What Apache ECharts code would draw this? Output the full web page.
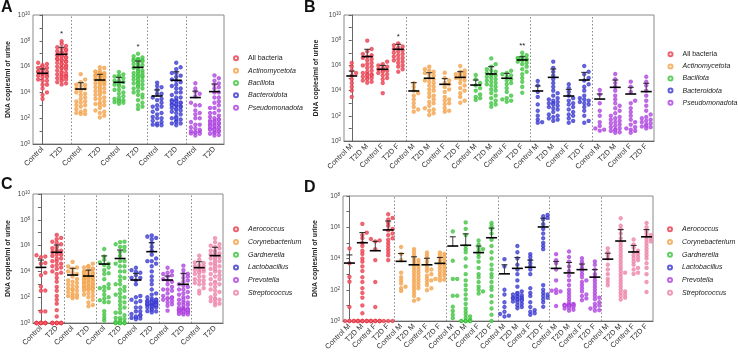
<!DOCTYPE html>
<html>
<head>
<meta charset="utf-8">
<script src="https://cdn.jsdelivr.net/npm/echarts@6/dist/echarts.min.js"></script>
<style>
  html, body { margin: 0; padding: 0; background: #fff; }
  #chart { width: 738px; height: 353px; }
</style>
</head>
<body>
<div id="chart"></div>
<script>
// all values are log10(DNA copies/ml of urine); 0 = not detected (drawn on the baseline)
// sub-groups in order: Control M, T2D M, Control F, T2D F

// ---- phyla (panels A / B)
var allBacteria = [
  [6.2, 5.9, 5.6, 5.4, 5.2, 4.9, 4.6, 4.3, 4.0, 3.5],
  [7.97, 7.3, 7.1, 6.9, 6.8, 6.7, 6.6, 6.5, 6.4, 6.2, 6.1, 6.0, 5.9, 5.8, 5.6, 5.5, 5.4, 5.3, 5.3, 5.2, 5.2, 5.1, 5.0, 5.0, 4.9, 4.8, 4.7, 4.62],
  [6.3, 6.1, 6.0, 5.9, 5.8, 5.7, 5.6, 5.6, 5.5, 5.4, 5.3, 5.2, 5.0, 4.9, 4.6, 3.8],
  [7.75, 7.6, 7.5, 7.4, 7.3, 7.2, 7.1, 7.0, 6.9, 6.8, 6.7, 6.6, 6.5, 6.4, 6.3, 6.2, 6.0, 5.9, 5.7, 5.5]
];
var actinomycetota = [
  [4.58, 4.3, 4.0, 3.8, 3.6, 3.3, 3.0, 2.7, 2.5, 2.33],
  [5.9, 5.7, 5.6, 5.5, 5.4, 5.3, 5.2, 5.0, 4.9, 4.8, 4.7, 4.6, 4.4, 4.3, 4.1, 4.0, 3.8, 3.6, 3.5, 3.3, 3.1, 3.0, 2.8, 2.6, 2.5, 2.4, 2.2, 2.06],
  [5.42, 5.0, 4.8, 4.6, 4.5, 4.3, 4.1, 3.9, 3.5, 3.3, 3.2, 3.0, 2.9, 2.6, 2.4, 2.33],
  [5.95, 5.6, 5.5, 5.4, 5.35, 5.3, 5.2, 5.15, 5.1, 5.0, 4.9, 4.8, 4.6, 4.4, 4.2, 4.0, 3.8, 3.5, 3.2, 3.04]
];
var bacillota = [
  [5.24, 4.9, 4.6, 4.4, 4.2, 4.0, 3.7, 3.5, 3.4, 3.25],
  [6.56, 6.1, 5.9, 5.7, 5.6, 5.5, 5.4, 5.3, 5.25, 5.2, 5.1, 5.0, 4.9, 4.8, 4.7, 4.6, 4.5, 4.4, 4.3, 4.1, 4.0, 3.8, 3.6, 3.4, 3.2, 3.0, 2.9, 2.72],
  [5.58, 5.4, 5.3, 5.2, 5.1, 4.9, 4.8, 4.6, 4.5, 4.2, 3.9, 3.6, 3.4, 3.3, 3.2, 3.12],
  [7.0, 6.8, 6.7, 6.6, 6.55, 6.5, 6.5, 6.45, 6.4, 6.3, 6.2, 6.1, 5.9, 5.7, 5.5, 5.3, 5.0, 4.7, 4.3, 3.83]
];
var bacteroidota = [
  [4.76, 4.4, 3.9, 3.5, 2.9, 2.4, 2.0, 1.7, 1.5, 1.45],
  [6.3, 5.8, 5.5, 5.2, 4.9, 4.6, 4.3, 4.0, 3.8, 3.6, 3.4, 3.3, 3.2, 3.1, 3.0, 3.0, 2.9, 2.8, 2.7, 2.6, 2.5, 2.3, 2.1, 2.0, 1.9, 1.8, 1.7, 1.6],
  [4.5, 4.2, 3.9, 3.6, 3.4, 3.2, 3.0, 2.9, 2.7, 2.5, 2.3, 2.1, 2.0, 1.8, 1.6, 1.45],
  [5.95, 5.5, 5.3, 5.0, 4.8, 4.5, 4.3, 4.0, 3.6, 3.4, 3.3, 3.2, 3.1, 3.0, 2.9, 2.7, 2.4, 2.0, 1.6, 1.45]
];
var pseudomonadota = [
  [4.05, 3.7, 3.0, 2.4, 2.0, 1.5, 1.2, 1.0, 0.9, 0.82],
  [5.32, 4.9, 4.6, 4.3, 4.0, 3.6, 3.3, 3.0, 2.8, 2.6, 2.4, 2.2, 2.0, 1.9, 1.8, 1.7, 1.6, 1.5, 1.4, 1.3, 1.2, 1.1, 1.0, 0.9, 0.85, 0.8, 0.7, 0.66],
  [4.71, 4.3, 3.9, 3.2, 3.0, 2.6, 2.3, 2.0, 1.7, 1.5, 1.3, 1.1, 1.0, 0.9, 0.8, 0.66],
  [5.1, 4.7, 4.4, 4.0, 3.6, 3.2, 2.8, 2.4, 2.1, 1.9, 1.8, 1.7, 1.6, 1.5, 1.4, 1.3, 1.2, 1.15, 1.1, 1.0]
];

// ---- genera (panels C / D)
var aerococcus = [
  [4.65, 3.7, 2.83, 2.52, 0.9, 0, 0, 0, 0, 0],
  [6.22, 5.66, 5.5, 5.3, 5.0, 4.8, 4.5, 4.3, 4.0, 3.8, 3.5, 3.2, 2.8, 2.5, 2.1, 1.8, 1.5, 1.0, 0.5, 0, 0, 0, 0, 0, 0, 0, 0, 0],
  [5.25, 5.15, 5.1, 4.6, 3.9, 2.5, 0.9, 0, 0, 0, 0, 0, 0, 0, 0, 0],
  [6.83, 6.6, 6.5, 6.3, 6.1, 5.9, 5.8, 5.6, 5.5, 5.3, 5.2, 5.0, 4.8, 4.6, 4.4, 4.2, 3.9, 0, 0, 0]
];
var corynebacterium = [
  [4.74, 4.3, 3.9, 3.1, 2.8, 2.6, 2.4, 2.2, 2.1, 1.93],
  [4.6, 4.4, 4.2, 4.0, 3.9, 3.8, 3.7, 3.6, 3.5, 3.4, 3.3, 3.2, 3.1, 3.0, 2.9, 2.8, 2.7, 2.6, 2.5, 2.4, 2.3, 2.2, 2.1, 2.0, 1.8, 1.6, 1.4, 1.3],
  [4.39, 4.2, 4.0, 3.8, 3.6, 3.4, 3.3, 3.2, 3.0, 2.9, 2.7, 2.6, 2.5, 2.3, 2.1, 1.97],
  [4.39, 4.3, 4.2, 4.1, 4.0, 3.9, 3.8, 3.7, 3.6, 3.5, 3.4, 3.3, 3.2, 3.1, 3.0, 2.9, 2.8, 2.7, 2.65, 2.6]
];
var gardnerella = [
  [5.74, 3.86, 2.7, 2.7, 1.62, 1.62, 0.92, 0.65, 0.4, 0.19],
  [6.31, 5.9, 5.5, 4.8, 4.6, 4.4, 4.0, 3.5, 3.0, 2.6, 2.3, 2.0, 1.7, 1.4, 1.1, 0.8, 0.6, 0.4, 0.3, 0.2, 0.1, 0, 0, 0, 0, 0, 0, 0],
  [5.15, 4.9, 4.7, 4.6, 4.5, 4.3, 4.1, 3.8, 3.4, 3.0, 2.8, 2.5, 2.2, 2.0, 1.9, 1.76],
  [6.27, 6.1, 5.9, 5.6, 5.2, 4.8, 4.4, 4.0, 3.6, 3.3, 3.0, 2.8, 2.5, 2.2, 2.0, 1.6, 1.2, 0.8, 0.4, 0]
];
var lactobacillus = [
  [3.96, 3.5, 2.0, 1.7, 1.2, 0.9, 0.6, 0.45, 0.35, 0.29],
  [4.8, 4.4, 4.0, 3.6, 3.3, 3.0, 2.6, 2.2, 1.9, 1.8, 1.75, 1.7, 1.65, 1.6, 1.55, 1.5, 1.5, 1.45, 1.4, 1.4, 1.35, 1.3, 1.25, 1.2, 1.1, 1.0, 0.9, 0.82],
  [4.28, 4.1, 3.9, 3.7, 3.5, 3.3, 3.0, 2.1, 1.8, 1.6, 1.2, 0.9, 0.7, 0.6, 0.5, 0.4],
  [6.79, 6.7, 6.6, 6.5, 6.2, 5.9, 5.6, 5.3, 5.0, 4.8, 4.6, 2.3, 2.0, 1.8, 1.7, 1.6, 1.5, 1.4, 1.2, 0.92]
];
var prevotella = [
  [4.28, 3.9, 3.7, 3.3, 2.6, 2.0, 1.95, 1.9, 1.8, 0.96],
  [4.45, 4.1, 3.8, 3.5, 3.2, 2.9, 2.6, 2.3, 2.0, 1.8, 1.6, 1.4, 1.2, 1.1, 1.05, 1.05, 1.03, 1.03, 1.0, 1.0, 1.0, 0.98, 0.95, 0.9, 0.85, 0.8, 0.72, 0.67],
  [4.02, 3.8, 3.6, 3.4, 3.2, 3.0, 2.8, 2.6, 2.5, 2.3, 2.1, 1.9, 1.7, 1.6, 1.45, 1.34],
  [3.82, 3.6, 3.3, 3.0, 2.8, 2.6, 2.4, 2.2, 2.0, 1.8, 1.6, 1.5, 1.4, 1.2, 1.1, 1.0, 0.9, 0.8, 0.7, 0.67]
];
var streptococcus = [
  [4.65, 4.4, 4.2, 4.0, 3.6, 3.3, 3.0, 2.7, 2.5, 2.29],
  [6.58, 6.1, 5.9, 5.6, 5.3, 5.0, 4.8, 4.6, 4.4, 4.2, 4.0, 3.8, 3.6, 3.4, 3.2, 3.1, 3.0, 2.8, 2.6, 2.4, 2.2, 2.0, 1.9, 1.8, 1.7, 1.6, 1.5, 1.38],
  [5.22, 4.9, 4.7, 4.5, 4.4, 4.3, 4.2, 4.1, 4.0, 3.9, 3.8, 3.6, 3.4, 3.3, 3.1, 3.02],
  [6.27, 6.0, 5.8, 5.6, 5.5, 5.4, 5.3, 5.2, 5.1, 5.0, 4.8, 4.6, 4.4, 4.2, 4.0, 3.7, 3.4, 3.0, 2.5, 1.86]
];

// ---- mean and mean+SEM (log10), one per x category
var meanA = [5.48, 6.95, 4.26, 4.96, 4.78, 5.94, 3.72, 4.94, 3.6, 4.06];
var semA  = [5.82, 7.5, 4.75, 5.4, 5.17, 6.43, 4.19, 5.6, 4.1, 4.65];
var meanB = [5.16, 6.7, 5.69, 7.28, 3.97, 4.98, 4.5, 5.05, 4.44, 5.32, 4.98, 6.43, 3.97, 5.05, 3.57, 4.84, 3.33, 4.26, 3.73, 3.92];
var semB  = [5.55, 7.28, 6.0, 7.67, 4.63, 5.42, 4.95, 5.5, 4.84, 5.9, 5.37, 6.69, 4.37, 5.71, 4.1, 5.45, 3.73, 4.84, 4.26, 4.58];
var meanC = [4.31, 5.48, 3.72, 3.64, 4.57, 5.0, 3.33, 5.53, 3.33, 3.0, 4.29, 5.22];
var semC  = [4.88, 6.05, 4.24, 4.1, 5.2, 5.66, 3.85, 6.23, 3.64, 3.85, 4.75, 5.87];
var meanD = [3.71, 5.01, 4.5, 5.83, 3.82, 3.6, 3.6, 3.69, 4.8, 4.85, 4.38, 5.33, 3.02, 3.37, 3.44, 6.02, 3.37, 3.08, 3.29, 2.81, 3.96, 5.12, 4.42, 5.39];
var semD  = [4.23, 5.66, 5.1, 6.4, 4.32, 4.11, 4.02, 4.07, 5.39, 5.58, 4.8, 5.95, 3.6, 4.07, 3.9, 6.58, 3.82, 3.75, 3.65, 3.29, 4.34, 5.85, 4.84, 5.85];

var sigA = ['', '*', '', '', '', '*', '', '', '', ''];
var sigB = ['', '', '', '*', '', '', '', '', '', '', '', '**', '', '', '', '', '', '', '', ''];

var labelsAC = ['Control', 'T2D'];
var labelsBD = ['Control M', 'T2D M', 'Control F', 'T2D F'];

var phylaNames = ['All bacteria', 'Actinomycetota', 'Bacillota', 'Bacteroidota', 'Pseudomonadota'];
var generaNames = ['Aerococcus', 'Corynebacterium', 'Gardnerella', 'Lactobacillus', 'Prevotella', 'Streptococcus'];
var colors = ['#e8394a', '#f3a046', '#3cc23c', '#3434cf', '#ab40df', '#ec7fa8'];

var phyla = [allBacteria, actinomycetota, bacillota, bacteroidota, pseudomonadota];
var genera = [aerococcus, corynebacterium, gardnerella, lactobacillus, prevotella, streptococcus];

// pooled by sex -> Control / T2D
function pool(t) { return [t[0].concat(t[2]), t[1].concat(t[3])]; }

var panels = [
  { letter: 'A', lx: 1, ly: 0, grid: { left: 33, top: 15, width: 191, height: 129 }, yMax: 10, nameGap: 21,
    names: phylaNames, sets: phyla.map(pool), labels: labelsAC, mean: meanA, sem: semA, sig: sigA,
    legend: { left: 233, top: 53.8, gap: 3.35 } },
  { letter: 'B', lx: 304, ly: 0, grid: { left: 344, top: 15, width: 310, height: 126 }, yMax: 10, nameGap: 24,
    names: phylaNames, sets: phyla, labels: labelsBD, mean: meanB, sem: semB, sig: sigB,
    legend: { left: 667.5, top: 49.8, gap: 3.1 } },
  { letter: 'C', lx: 1, ly: 177, grid: { left: 33, top: 194, width: 190, height: 129 }, yMax: 10, nameGap: 21,
    names: generaNames, sets: genera.map(pool), labels: labelsAC, mean: meanC, sem: semC, sig: [],
    legend: { left: 233, top: 224.8, gap: 3.7 } },
  { letter: 'D', lx: 304, ly: 180, grid: { left: 343, top: 196, width: 310, height: 127 }, yMax: 8, nameGap: 24,
    names: generaNames, sets: genera, labels: labelsBD, mean: meanD, sem: semD, sig: [],
    legend: { left: 667, top: 224.8, gap: 3.7 } }
];

// simple beeswarm: horizontal offsets (in category units) so dots don't sit on each other
function swarm(vals, pxDec, pxCat) {
  var step = 2.2, d = 2.6;
  var maxK = Math.max(1, Math.floor(0.4 * pxCat / step));
  var cands = [0];
  for (var k = 1; k <= maxK; k++) cands.push(k * step, -k * step);
  var order = vals.map(function (v, i) { return i; }).sort(function (a, b) { return vals[a] - vals[b]; });
  var placed = [], off = vals.map(function () { return 0; });
  order.forEach(function (i) {
    var y = vals[i] * pxDec, best = 0, bestHits = Infinity;
    for (var c = 0; c < cands.length; c++) {
      var hits = 0;
      placed.forEach(function (p) { if (Math.abs(p.y - y) < d && Math.abs(p.x - cands[c]) < d) hits++; });
      if (hits < bestHits) { bestHits = hits; best = cands[c]; if (!hits) break; }
    }
    placed.push({ x: best, y: y });
    off[i] = best / pxCat;
  });
  return off;
}

var FONT = 'Liberation Sans, Arial, sans-serif';
var grids = [], xAxes = [], yAxes = [], series = [], legends = [], titles = [];

panels.forEach(function (P, p) {
  var per = P.labels.length, nCat = per * P.names.length;
  var cats = [];
  P.names.forEach(function () { cats = cats.concat(P.labels); });
  var pxDec = P.grid.height / P.yMax, pxCat = P.grid.width / nCat;

  grids.push(Object.assign({ show: true, borderColor: '#8a8a8a', borderWidth: 1, backgroundColor: 'transparent' }, P.grid));
  titles.push({ text: P.letter, left: P.lx, top: P.ly, padding: 0,
    textStyle: { fontFamily: FONT, fontSize: 16, fontWeight: 'bold', color: '#111' } });

  xAxes.push({
    type: 'category', gridIndex: p, data: cats, boundaryGap: true,
    axisLine: { lineStyle: { color: '#666', width: 1 } },
    axisTick: { alignWithLabel: true, length: 3, lineStyle: { color: '#666' } },
    axisLabel: { rotate: 45, interval: 0, margin: 4, fontSize: 7.5, color: '#333', fontFamily: FONT },
    splitLine: { show: false }
  });
  xAxes.push({ type: 'value', gridIndex: p, min: -0.5, max: nCat - 0.5, show: false });

  yAxes.push({
    type: 'value', gridIndex: p, min: 0, max: P.yMax, interval: 1,
    name: 'DNA copies/ml of urine', nameLocation: 'middle', nameGap: P.nameGap,
    nameTextStyle: { fontFamily: FONT, fontSize: 7, fontWeight: 'bold', color: '#222' },
    axisLine: { show: true, lineStyle: { color: '#666', width: 1 } },
    axisTick: { show: true, length: 3, lineStyle: { color: '#666' } },
    splitLine: { show: false },
    axisLabel: {
      margin: 3, color: '#444', fontFamily: FONT, fontSize: 6.5,
      formatter: function (v) { return v % 2 === 0 ? '10{s|' + v + '}' : ''; },
      rich: { s: { fontSize: 4.5, verticalAlign: 'top', color: '#444', fontFamily: FONT } }
    }
  });

  var maxVal = [];
  P.names.forEach(function (name, t) {
    var data = [];
    P.sets[t].forEach(function (vals, s) {
      var ci = t * per + s;
      var off = swarm(vals, pxDec, pxCat);
      vals.forEach(function (v, j) { data.push([ci + off[j], v]); });
      maxVal[ci] = Math.max.apply(null, vals);
    });
    var sObj = {
      type: 'scatter', name: name, xAxisIndex: 2 * p + 1, yAxisIndex: p,
      symbol: 'emptyCircle', symbolSize: 2.4, silent: true, z: 2,
      itemStyle: { color: colors[t], borderWidth: 0.8 },
      data: data
    };
    if (t === 0) {
      var seps = [];
      for (var g = 1; g < P.names.length; g++) seps.push({ xAxis: g * per - 0.5 });
      sObj.markLine = { silent: true, symbol: ['none', 'none'], label: { show: false },
        lineStyle: { type: [1.5, 2], color: '#888', width: 1 }, data: seps, animation: false };
    }
    series.push(sObj);
  });

  var sig = P.sig;
  series.push({
    type: 'custom', xAxisIndex: 2 * p + 1, yAxisIndex: p, silent: true, z: 5,
    data: P.mean.map(function (m, i) { return [i, m, P.sem[i], maxVal[i]]; }),
    renderItem: function (params, api) {
      var x = api.value(0);
      var m = api.coord([x, api.value(1)]);
      var c = api.coord([x, api.value(2)]);
      var top = api.coord([x, api.value(3)]);
      var kids = [
        { type: 'line', shape: { x1: m[0], y1: m[1], x2: c[0], y2: c[1] }, style: { stroke: '#444', lineWidth: 1 } },
        { type: 'line', shape: { x1: c[0] - 3, y1: c[1], x2: c[0] + 3, y2: c[1] }, style: { stroke: '#222', lineWidth: 1 } },
        { type: 'line', shape: { x1: m[0] - 5.5, y1: m[1], x2: m[0] + 5.5, y2: m[1] }, style: { stroke: '#000', lineWidth: 1.6 } }
      ];
      var s = sig[params.dataIndex];
      if (s) {
        kids.push({ type: 'text', x: top[0], y: top[1] - 3,
          style: { text: s, fontSize: 8, fontFamily: FONT, fill: '#222', align: 'center', verticalAlign: 'bottom' } });
      }
      return { type: 'group', children: kids };
    }
  });

  legends.push({
    orient: 'vertical', left: P.legend.left, top: P.legend.top, padding: 0,
    itemWidth: 4, itemHeight: 4, itemGap: P.legend.gap, selectedMode: false,
    textStyle: { fontFamily: FONT, fontSize: 7, lineHeight: 9, color: '#222', padding: [0, 0, 0, 5] },
    data: P.names.map(function (n) {
      return n === 'All bacteria' ? { name: n } : { name: n, textStyle: { fontStyle: 'italic' } };
    })
  });
});

var chart = echarts.init(document.getElementById('chart'), null, { renderer: 'canvas' });
chart.setOption({
  animation: false,
  backgroundColor: '#fff',
  title: titles,
  grid: grids,
  xAxis: xAxes,
  yAxis: yAxes,
  legend: legends,
  series: series
});
</script>
</body>
</html>
